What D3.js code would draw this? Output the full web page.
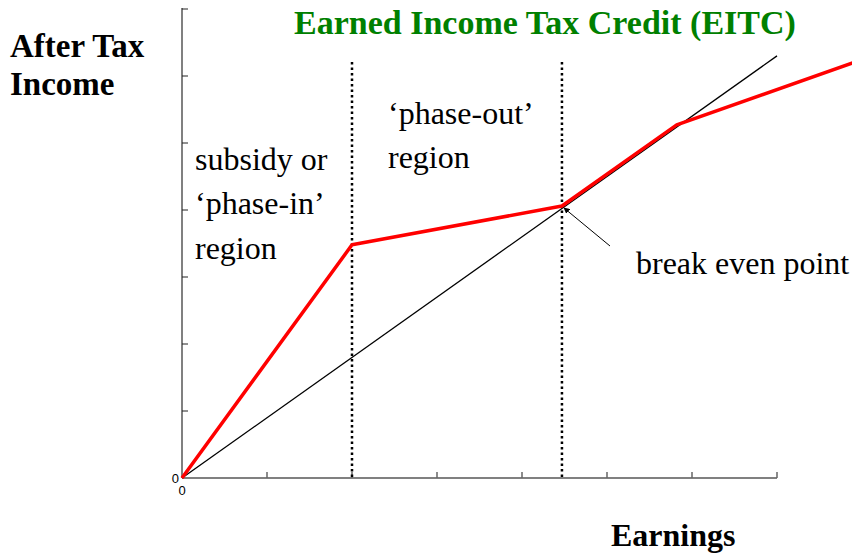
<!DOCTYPE html>
<html>
<head>
<meta charset="utf-8">
<script src="https://cdn.jsdelivr.net/npm/d3@7"></script>
<style>
  body { margin: 0; background: #fff; }
  svg { display: block; font-family: "Liberation Serif", "Times New Roman", serif; }
</style>
</head>
<body>
<svg id="chart"></svg>
<script>
// tick positions along both axes (0..7, unlabelled)
const xTicks = [0, 1, 2, 3, 4, 5, 6, 7];
const yTicks = [0, 1, 2, 3, 4, 5, 6, 7];

// after tax income with EITC (red)
const eitcEarn = [0, 2, 4.47, 5.82, 7.9];
const eitcIncome = [0, 3.48, 4.06, 5.27, 6.2];

// 45 degree line: no tax, no credit (black)
const noTaxEarn = [0, 7];
const noTaxIncome = [0, 6.3];

// region boundaries (dotted)
const boundaries = [2, 4.47];

const width = 852, height = 554;
const svg = d3.select("#chart").attr("width", width).attr("height", height);

const x = d3.scaleLinear().domain([0, 7]).range([182, 777]);
const y = d3.scaleLinear().domain([0, 7]).range([478, 9]);

// axes
svg.append("line")
    .attr("x1", x(0)).attr("x2", x(0))
    .attr("y1", y(7) - 1).attr("y2", y(0))
    .attr("stroke", "#808080").attr("stroke-width", 2);
svg.append("line")
    .attr("x1", x(0)).attr("x2", x(7))
    .attr("y1", y(0)).attr("y2", y(0))
    .attr("stroke", "#808080").attr("stroke-width", 2);

svg.selectAll(".ytick")
    .data(yTicks.slice(1))
    .enter().append("line")
    .attr("class", "ytick")
    .attr("x1", x(0)).attr("x2", x(0) + 6)
    .attr("y1", d => y(d)).attr("y2", d => y(d))
    .attr("stroke", "#222").attr("stroke-width", 1);

svg.selectAll(".xtick")
    .data(xTicks.slice(1))
    .enter().append("line")
    .attr("class", "xtick")
    .attr("x1", d => x(d)).attr("x2", d => x(d))
    .attr("y1", y(0)).attr("y2", y(0) - 6)
    .attr("stroke", "#666").attr("stroke-width", 1.5);

svg.append("text").text("0")
    .attr("x", x(0) - 3).attr("y", y(0) + 5)
    .attr("text-anchor", "end")
    .attr("font-family", "Arial, Liberation Sans, sans-serif")
    .attr("font-size", 13);
svg.append("text").text("0")
    .attr("x", x(0)).attr("y", y(0) + 17)
    .attr("text-anchor", "middle")
    .attr("font-family", "Arial, Liberation Sans, sans-serif")
    .attr("font-size", 13);

// dotted region boundaries
svg.selectAll(".bound")
    .data(boundaries)
    .enter().append("line")
    .attr("class", "bound")
    .attr("x1", d => x(d)).attr("x2", d => x(d))
    .attr("y1", 62).attr("y2", y(0))
    .attr("stroke", "#000").attr("stroke-width", 2.5)
    .attr("stroke-dasharray", "2.5 3");

const line = d3.line().x(d => x(d[0])).y(d => y(d[1]));

svg.append("path")
    .datum(d3.zip(noTaxEarn, noTaxIncome))
    .attr("d", line)
    .attr("fill", "none").attr("stroke", "#000").attr("stroke-width", 1.3);

svg.append("path")
    .datum(d3.zip(eitcEarn, eitcIncome))
    .attr("d", line)
    .attr("fill", "none").attr("stroke", "#ff0000").attr("stroke-width", 3.5)
    .attr("stroke-linejoin", "round");

// arrow to break even point
svg.append("defs").append("marker")
    .attr("id", "head")
    .attr("viewBox", "0 0 10 10")
    .attr("refX", 9).attr("refY", 5)
    .attr("markerWidth", 6).attr("markerHeight", 6)
    .attr("orient", "auto")
    .append("path").attr("d", "M0,0 L10,5 L0,10 z").attr("fill", "#000");

svg.append("line")
    .attr("x1", 610).attr("y1", 246)
    .attr("x2", x(4.47) + 2).attr("y2", y(4.06) + 2)
    .attr("stroke", "#000").attr("stroke-width", 1)
    .attr("marker-end", "url(#head)");

// texts
svg.append("text")
    .attr("x", 294).attr("y", 34)
    .attr("fill", "#008000").attr("font-weight", "bold").attr("font-size", 34)
    .text("Earned Income Tax Credit (EITC)");

svg.append("text").attr("x", 10).attr("y", 57)
    .attr("font-weight", "bold").attr("font-size", 33).text("After Tax");
svg.append("text").attr("x", 10).attr("y", 95)
    .attr("font-weight", "bold").attr("font-size", 33).text("Income");

const label = (t, px, py) => svg.append("text")
    .attr("x", px).attr("y", py).attr("font-size", 32).text(t);

label("subsidy or", 195, 170);
label("\u2018phase-in\u2019", 195, 214);
label("region", 195, 259);
label("\u2018phase-out\u2019", 388, 124);
label("region", 388, 168);
label("break even point", 636, 274);

svg.append("text").attr("x", 611).attr("y", 546)
    .attr("font-weight", "bold").attr("font-size", 32).text("Earnings");
</script>
</body>
</html>
